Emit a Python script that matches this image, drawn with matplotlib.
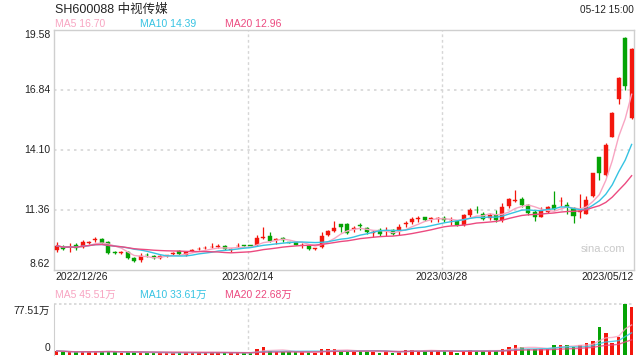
import matplotlib
matplotlib.use("Agg")
import matplotlib.pyplot as plt
import numpy as np
import pandas as pd

# ---------------- data ----------------
opens = [9.53, 9.68, 9.66, 9.76, 9.68, 9.86, 10.00, 10.04, 9.91, 9.42,
         9.40, 9.46, 9.15, 9.08, 9.31, 9.27, 9.15, 9.26, 9.36, 9.50,
         9.30, 9.51, 9.57, 9.61, 9.65, 9.67, 9.70, 9.55, 9.71, 9.74,
         9.74, 9.76, 10.09, 10.17, 10.01, 10.08, 9.88, 9.88, 9.75, 9.72,
         9.58, 9.67, 10.22, 10.40, 10.71, 10.71, 10.51, 10.65, 10.55, 10.33,
         10.45, 10.39, 10.45, 10.45, 10.74, 10.83, 10.97, 11.03, 10.97, 10.97,
         10.98, 10.89, 10.87, 10.67, 11.13, 11.37, 11.16, 11.00, 11.13, 10.90,
         11.54, 11.77, 11.85, 11.59, 11.28, 11.06, 11.28, 11.57, 11.75, 11.60,
         11.44, 11.27, 11.20, 12.01, 13.76, 12.97, 14.71, 16.41, 19.20, 15.55]
highs = [9.91, 9.75, 9.85, 9.85, 9.98, 9.96, 10.11, 10.08, 9.96, 9.50,
         9.48, 9.48, 9.20, 9.38, 9.38, 9.30, 9.30, 9.32, 9.43, 9.55,
         9.50, 9.60, 9.66, 9.70, 9.84, 9.81, 9.74, 9.64, 9.84, 9.77,
         9.78, 10.22, 10.60, 10.34, 10.07, 10.14, 9.90, 9.90, 9.84, 9.74,
         9.63, 10.37, 10.45, 10.86, 10.72, 10.75, 10.64, 10.78, 10.60, 10.45,
         10.52, 10.60, 10.48, 10.71, 10.86, 11.03, 11.09, 11.05, 11.05, 11.05,
         11.09, 11.03, 10.90, 11.18, 11.44, 11.54, 11.27, 11.24, 11.36, 11.66,
         11.89, 12.27, 11.97, 11.63, 11.36, 11.51, 11.54, 12.23, 11.97, 11.74,
         11.51, 12.09, 12.00, 13.06, 13.76, 14.40, 15.82, 17.45, 19.25, 18.75]
lows = [9.43, 9.52, 9.46, 9.55, 9.62, 9.80, 9.88, 9.80, 9.35, 9.36,
        9.35, 9.12, 8.98, 9.00, 9.22, 9.12, 9.12, 9.22, 9.32, 9.30,
        9.28, 9.45, 9.52, 9.58, 9.61, 9.61, 9.52, 9.46, 9.63, 9.70,
        9.70, 9.73, 10.04, 9.91, 9.79, 9.91, 9.84, 9.74, 9.61, 9.55,
        9.55, 9.64, 10.18, 10.34, 10.34, 10.25, 10.34, 10.45, 10.25, 10.14,
        10.19, 10.19, 10.22, 10.22, 10.60, 10.72, 10.83, 10.88, 10.83, 10.83,
        10.83, 10.67, 10.64, 10.64, 11.05, 11.21, 10.90, 10.90, 10.83, 10.83,
        11.44, 11.74, 11.48, 11.13, 10.86, 11.02, 11.24, 11.36, 11.54, 11.20,
        10.75, 10.98, 11.18, 11.97, 12.73, 12.91, 14.68, 16.20, 16.84, 15.50]
closes = [9.73, 9.60, 9.68, 9.63, 9.88, 9.89, 10.03, 9.84, 9.41, 9.40,
          9.42, 9.15, 9.03, 9.26, 9.29, 9.15, 9.27, 9.28, 9.38, 9.35,
          9.46, 9.53, 9.59, 9.63, 9.67, 9.69, 9.56, 9.57, 9.73, 9.72,
          9.72, 10.07, 10.11, 9.94, 10.03, 10.00, 9.86, 9.76, 9.77, 9.59,
          9.60, 10.17, 10.40, 10.55, 10.60, 10.30, 10.53, 10.63, 10.34, 10.35,
          10.25, 10.41, 10.26, 10.60, 10.76, 10.95, 10.99, 10.90, 10.99, 10.99,
          10.90, 10.91, 10.67, 11.13, 11.36, 11.35, 10.96, 11.14, 10.90, 11.48,
          11.85, 11.79, 11.59, 11.24, 11.06, 11.33, 11.48, 11.39, 11.77, 11.51,
          11.10, 11.29, 11.82, 13.03, 13.07, 14.34, 15.78, 17.37, 17.04, 18.70]
volumes = [6.2, 5.2, 4.1, 4.1, 5.2, 5.2, 5.2, 5.2, 6.2, 4.1,
           3.1, 4.1, 4.1, 4.1, 3.1, 3.1, 3.1, 3.6, 3.6, 4.1,
           3.6, 3.6, 3.6, 3.6, 4.1, 3.6, 3.6, 3.1, 3.6, 3.1,
           3.1, 9.3, 12.4, 6.2, 5.2, 5.2, 4.1, 4.1, 4.1, 4.1,
           3.6, 9.3, 9.3, 9.3, 5.2, 5.2, 5.2, 6.2, 6.2, 5.2,
           3.1, 6.2, 3.1, 4.1, 8.3, 8.3, 6.2, 6.2, 6.2, 6.2,
           6.2, 6.2, 3.1, 6.2, 8.3, 6.2, 6.2, 6.2, 6.2, 9.3,
           12.4, 15.5, 11.4, 9.3, 9.3, 9.3, 9.3, 15.5, 15.5, 15.5,
           12.4, 14.5, 17.6, 21.7, 42.4, 34.1, 17.6, 26.9, 77.51, 72.3]
tick_index = [0, 30, 60, 89]
tick_labels = ["2022/12/26", "2023/02/14", "2023/03/28", "2023/05/12"]
price_ticks = [19.58, 16.84, 14.10, 11.36, 8.62]
title = "SH600088 中视传媒"
timestamp = "05-12 15:00"
ma_periods = [5, 10, 20]
ma_price_text = ["MA5 16.70", "MA10 14.39", "MA20 12.96"]
ma_vol_text = ["MA5 45.51万", "MA10 33.61万", "MA20 22.68万"]
vol_max_label = "77.51万"
watermark = "sina.com"

# ---------------- style ----------------
FONT = ["Liberation Sans", "Noto Sans CJK SC", "DejaVu Sans"]
plt.rcParams["font.family"] = FONT
RED = "#f3160d"
GREEN = "#05a305"
MA_COLORS = ["#f8a5c2", "#36c3e2", "#ec4a80"]
FRAME = "#cfcfcf"
GRID = "#d6d6d6"
TXT = "#222222"

W, H = 640, 360
fig = plt.figure(figsize=(6.4, 3.6), dpi=100)

def fx(px):
    return px / W

def fy(py):
    return 1 - py / H

n = len(closes)
x = np.arange(n)
x0_px, step_px = 56.7, 6.46
left_px, right_px = 54, 634
xlim = ((left_px - x0_px) / step_px, (right_px - x0_px) / step_px)

# main price axes
ax = fig.add_axes([fx(54), fy(270), fx(580), 240 / H])
ax.set_xlim(*xlim)
ax.set_ylim(price_ticks[-1], price_ticks[0])
ax.set_xticks([])
ax.set_yticks([])
for s in ax.spines.values():
    s.set_color(FRAME)
    s.set_linewidth(1.0)

for yv in price_ticks[1:-1]:
    ax.axhline(yv, color=GRID, lw=1.2, ls=(0, (1.5, 2.5)), zorder=0)
for ti in tick_index[1:3]:
    ax.axvline(ti - 0.4, color=GRID, lw=1.0, ls=(0, (2, 2)), zorder=0)

o = np.array(opens); c = np.array(closes); h = np.array(highs); l = np.array(lows)
up = c >= o
colors = np.where(up, RED, GREEN)
ax.vlines(x, l, h, colors=colors, lw=0.9, zorder=2)
body_bottom = np.minimum(o, c)
body_h = np.maximum(np.abs(c - o), 0.025)
ax.bar(x, body_h, bottom=body_bottom, width=0.62, color=colors, edgecolor=colors,
       linewidth=0.3, zorder=3)

cs = pd.Series(closes)
for p, col in zip(ma_periods, MA_COLORS):
    ax.plot(x, cs.rolling(p, min_periods=1).mean(), color=col, lw=1.0, zorder=4)

fig.text(fx(603), fy(249), watermark, color="#c9c9c9", fontsize=8, ha="center", va="center")

# y tick labels (price)
ypos_px = [35, None, None, None, 264]
for yv, ypp in zip(price_ticks, ypos_px):
    if ypp is None:
        ypp = 270 - (yv - price_ticks[-1]) / (price_ticks[0] - price_ticks[-1]) * 240
    fig.text(fx(50), fy(ypp), f"{yv:.2f}", ha="right", va="center", fontsize=7.5, color=TXT)

# x tick labels
for ti, lab in zip(tick_index, tick_labels):
    px = x0_px + step_px * ti
    if ti == tick_index[0]:
        fig.text(fx(55), fy(277), lab, ha="left", va="center", fontsize=7.5, color=TXT)
    elif ti == tick_index[-1]:
        fig.text(fx(634), fy(277), lab, ha="right", va="center", fontsize=7.5, color=TXT)
    else:
        fig.text(fx(px - 2.5), fy(277), lab, ha="center", va="center", fontsize=7.5, color=TXT)

# header
fig.text(fx(55), fy(10), title, ha="left", va="center", fontsize=9, color=TXT)
fig.text(fx(634), fy(10), timestamp, ha="right", va="center", fontsize=7.2, color=TXT)
for txt, col, xp in zip(ma_price_text, MA_COLORS, [55, 140, 225]):
    fig.text(fx(xp), fy(24), txt, ha="left", va="center", fontsize=7.5, color=col)
for txt, col, xp in zip(ma_vol_text, MA_COLORS, [55, 140, 225]):
    fig.text(fx(xp), fy(295), txt, ha="left", va="center", fontsize=7.5, color=col)

# volume axes
vmax = max(volumes)
axv = fig.add_axes([fx(54), fy(355), fx(580), 51 / H])
axv.set_xlim(*xlim)
axv.set_ylim(0, vmax)
axv.set_xticks([]); axv.set_yticks([])
for k in ["right", "bottom", "top"]:
    axv.spines[k].set_visible(False)
axv.spines["left"].set_color(FRAME)
axv.axhline(vmax, color=GRID, lw=1.2, ls=(0, (1.5, 1.5)), zorder=0, clip_on=False)
axv.axvline(tick_index[1] - 0.4, color=GRID, lw=1.0, ls=(0, (2, 2)), zorder=0)
axv.bar(x, volumes, width=0.55, color=colors, zorder=2)
vs = pd.Series(volumes)
for p, col in zip(ma_periods, MA_COLORS):
    axv.plot(x, vs.rolling(p, min_periods=1).mean(), color=col, lw=1.0, alpha=0.8, zorder=3)

fig.text(fx(50), fy(311), vol_max_label, ha="right", va="center", fontsize=7.5, color=TXT)
fig.text(fx(50), fy(348), "0", ha="right", va="center", fontsize=7.5, color=TXT)

fig.savefig("out.png", dpi=100)
